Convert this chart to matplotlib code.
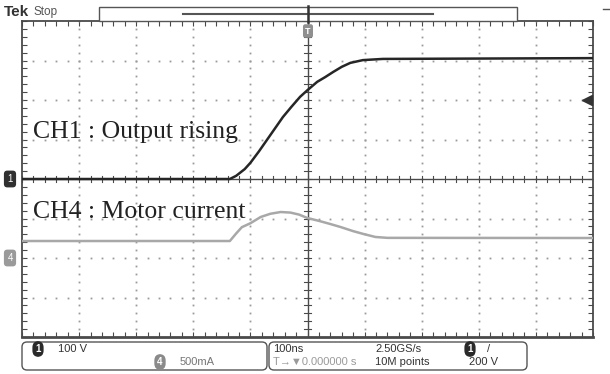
import numpy as np
import matplotlib
matplotlib.use("Agg")
import matplotlib.pyplot as plt
from matplotlib.patches import FancyBboxPatch, Rectangle

# CH1 : output voltage (time in ns, volts), 100 V/div
ch1_t = [-500, -136, -125, -110, -100, -85, -71, -57, -43, -28, -13, 0, 17, 31,
         45, 60, 75, 97, 132, 500]
ch1_v = [0, 0, 8, 25, 41, 70, 99, 128, 157, 183, 208, 225, 246, 258,
         271, 284, 294, 301, 304, 306]

# CH4 : motor current (time in ns, mA), 500 mA/div
ch4_t = [-500, -136, -125, -115, -100, -82, -65, -47, -30, -15, 0, 20, 40, 58,
         80, 98, 119, 140, 500]
ch4_i = [215, 215, 310, 390, 440, 519, 560, 582, 575, 550, 506, 470, 430, 392,
         340, 304, 266, 255, 253]

ch1_scale = 100.0   # V/div
ch4_scale = 500.0   # mA/div
ch1_pos = 0.0       # div
ch4_pos = -2.0      # div
trig_level = 200.0  # V

W, H = 610, 374
fig = plt.figure(figsize=(W / 100, H / 100), dpi=100)

# graticule area in pixels
gx0, gx1, gy0, gy1 = 22, 593, 21, 337
ax = fig.add_axes([gx0 / W, 1 - gy1 / H, (gx1 - gx0) / W, (gy1 - gy0) / H])
ax.set_xlim(-500, 500)
ax.set_ylim(-4, 4)

gcol = "#9a9a9a"
fcol = "#4a4a4a"

# dotted grid
for xv in np.arange(-400, 401, 100):
    if xv == 0:
        continue
    ys = np.arange(-4, 4.01, 0.2)
    ax.plot(np.full_like(ys, xv), ys, ls="none", marker="s", ms=1.3,
            color=gcol, mec="none")
for yv in np.arange(-3, 3.1, 1):
    if yv == 0:
        continue
    xs = np.arange(-500, 501, 20)
    ax.plot(xs, np.full_like(xs, yv, dtype=float), ls="none", marker="s",
            ms=1.3, color=gcol, mec="none")

# center cross with minor ticks
ax.axhline(0, color=fcol, lw=1.0)
ax.axvline(0, color=fcol, lw=1.0)
for xv in np.arange(-500, 501, 20):
    ax.plot([xv, xv], [-0.08, 0.08], color=fcol, lw=0.8)
for yv in np.arange(-4, 4.01, 0.2):
    ax.plot([-6, 6], [yv, yv], color=fcol, lw=0.8)

# traces
ax.plot(ch1_t, np.array(ch1_v) / ch1_scale + ch1_pos, color="#262626", lw=1.8,
        zorder=5)
ax.plot(ch4_t, np.array(ch4_i) / ch4_scale + ch4_pos, color="#a8a8a8", lw=1.8,
        zorder=5)

ax.set_xticks(np.arange(-500, 501, 20))
ax.set_yticks(np.arange(-4, 4.01, 0.2))
ax.tick_params(direction="in", length=3.5, width=0.8, color=fcol,
               top=True, right=True, labelbottom=False, labelleft=False)
for s in ax.spines.values():
    s.set_color(fcol)
    s.set_linewidth(1.3)
ax.spines["bottom"].set_linewidth(2.0)

serif = ["Liberation Serif", "DejaVu Serif"]
ax.text(-481, 1.2, "CH1 : Output rising", fontsize=18.5, family=serif,
        color="#222222", va="center", ha="left", zorder=6)
ax.text(-481, -0.84, "CH4 : Motor current", fontsize=18.5, family=serif,
        color="#222222", va="center", ha="left", zorder=6)

# overlay in pixel coordinates for the scope UI
ov = fig.add_axes([0, 0, 1, 1], zorder=10)
ov.set_xlim(0, W)
ov.set_ylim(H, 0)
ov.axis("off")
ov.patch.set_alpha(0)

sans = ["Liberation Sans", "DejaVu Sans"]
ov.text(4, 12, "Tek", fontsize=11, weight="bold", family=sans, color="#333333",
        va="center", ha="left")
ov.text(34, 12, "Stop", fontsize=8.5, family=sans, color="#555555",
        va="center", ha="left")

ov.add_patch(Rectangle((99, 7), 418, 13.5, fc="white", ec="#555555", lw=1.0))
ov.plot([183, 433], [14, 14], color="#555555", lw=1.5)
ov.plot([308, 308], [6, 22], color="#333333", lw=1.8)
ov.text(308, 31, "T", fontsize=6.5, weight="bold", color="white", family=sans,
        ha="center", va="center",
        bbox=dict(boxstyle="round,pad=0.25", fc="#8f8f8f", ec="none"))
ov.plot([603, 609], [9, 9], color="#555555", lw=1.0)

# channel markers on the left and trigger arrow on the right
y_ch1 = gy0 + (4 - ch1_pos) / 8 * (gy1 - gy0)
y_ch4 = gy0 + (4 - ch4_pos) / 8 * (gy1 - gy0)
y_trg = gy0 + (4 - trig_level / ch1_scale) / 8 * (gy1 - gy0)
ov.text(10, y_ch1, "1", fontsize=7, color="white", family=sans, ha="center",
        va="center", bbox=dict(boxstyle="round,pad=0.35", fc="#303030", ec="none"))
ov.text(10, y_ch4, "4", fontsize=7, color="white", family=sans, ha="center",
        va="center", bbox=dict(boxstyle="round,pad=0.35", fc="#9a9a9a", ec="none"))
ov.plot([587], [y_trg], marker="<", ms=7, color="#333333")

# bottom readout boxes
ov.add_patch(FancyBboxPatch((22, 342), 245, 28, boxstyle="round,pad=0,rounding_size=5",
                            fc="white", ec="#555555", lw=1.0))
ov.add_patch(FancyBboxPatch((269, 342), 258, 28, boxstyle="round,pad=0,rounding_size=5",
                            fc="white", ec="#555555", lw=1.0))

fs = 8
badge = dict(boxstyle="round,pad=0.3,rounding_size=0.65", ec="none")
ov.text(38, 349, "1", fontsize=7, color="white", family=sans, ha="center",
        va="center", weight="bold", bbox=dict(badge, fc="#2a2a2a"))
ov.text(58, 349, "100 V", fontsize=fs, family=sans, color="#333333", va="center")
ov.text(160, 362, "4", fontsize=7, color="white", family=sans, ha="center",
        va="center", weight="bold", bbox=dict(badge, fc="#8a8a8a"))
ov.text(180, 362, "500mA", fontsize=fs, family=sans, color="#777777", va="center")

ov.text(273, 349, "100ns", fontsize=fs, family=sans, color="#333333", va="center")
ov.text(273, 362, "T\u2192\u25bc0.000000 s", fontsize=fs, family=sans,
        color="#9a9a9a", va="center")
ov.text(375, 349, "2.50GS/s", fontsize=fs, family=sans, color="#333333", va="center")
ov.text(375, 362, "10M points", fontsize=fs, family=sans, color="#333333", va="center")
ov.text(470, 349, "1", fontsize=7, color="white", family=sans, ha="center",
        va="center", weight="bold", bbox=dict(badge, fc="#2a2a2a"))
ov.text(487, 349, "/", fontsize=fs, family=sans, color="#333333", va="center")
ov.text(469, 362, "200 V", fontsize=fs, family=sans, color="#333333", va="center")

fig.savefig("out.png", dpi=100, facecolor="white")
